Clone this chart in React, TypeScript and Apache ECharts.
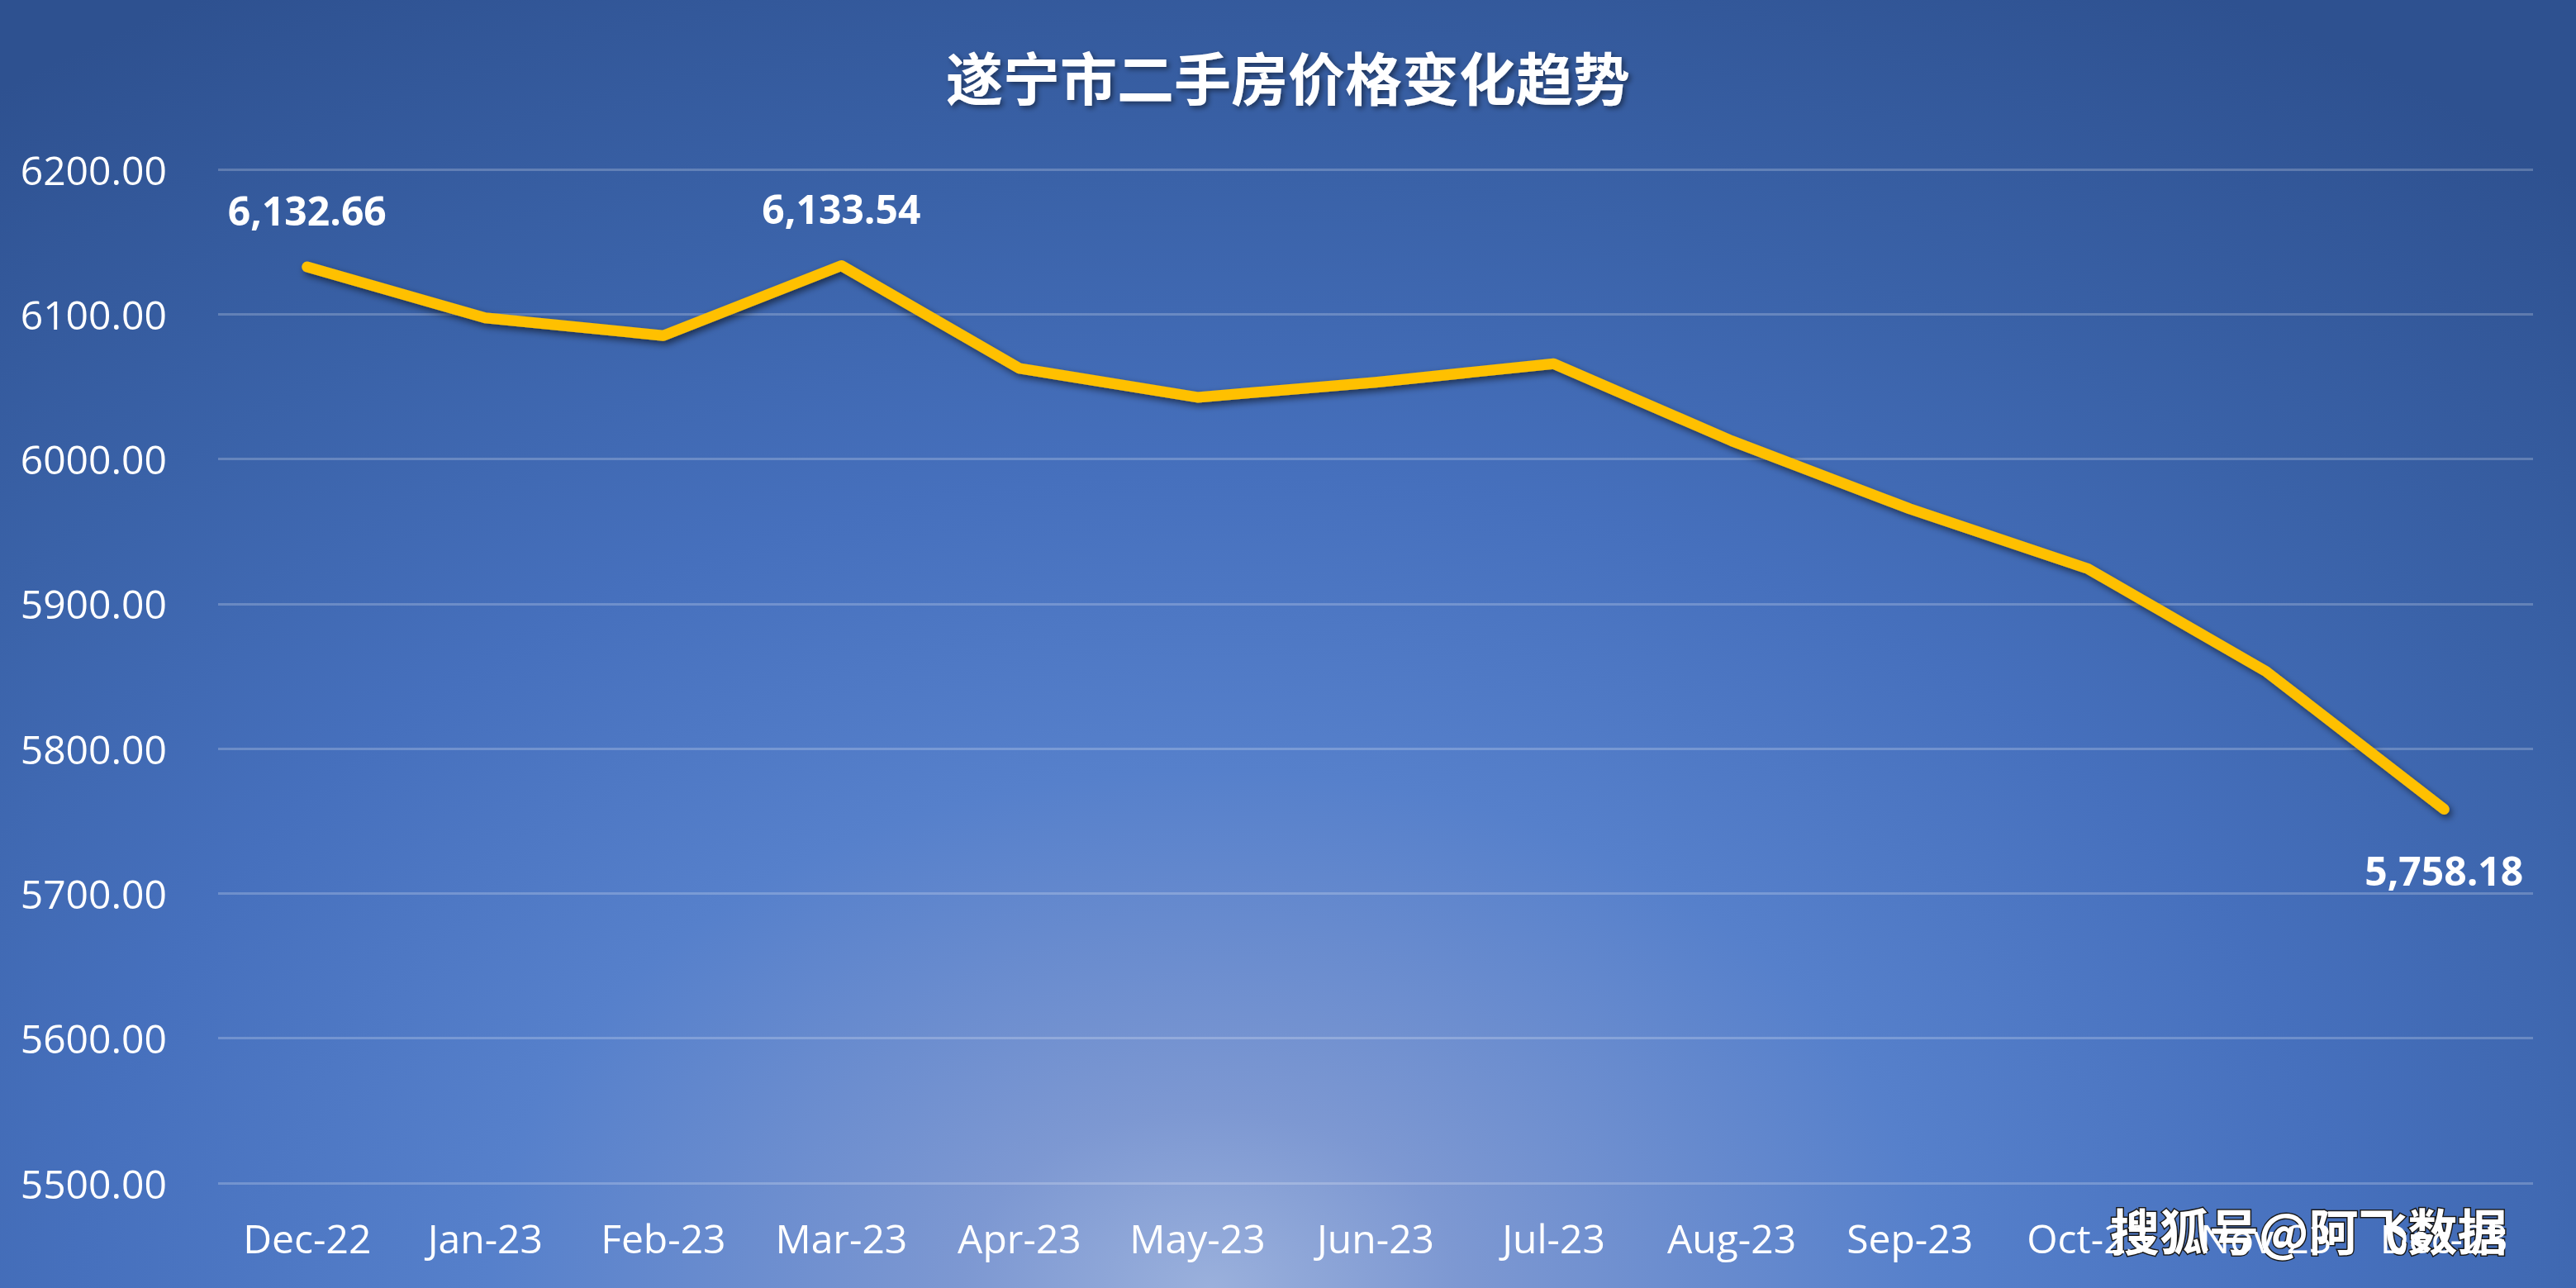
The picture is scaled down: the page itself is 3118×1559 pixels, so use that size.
import * as echarts from "echarts";
import { useEffect, useRef } from "react";

const months = [
  "Dec-22", "Jan-23", "Feb-23", "Mar-23", "Apr-23", "May-23", "Jun-23",
  "Jul-23", "Aug-23", "Sep-23", "Oct-23", "Nov-23", "Dec-23"
];

const prices = [
  6132.66, 6097.5, 6085.2, 6133.54, 6062.6, 6042.6, 6053.0,
  6065.8, 6012.5, 5965.6, 5924.2, 5853.4, 5758.18
];

// which points carry a value label, and where
const labelAbove = [0, 3];
const labelBelow = [12];

const yMin = 5500;
const yMax = 6200;
const yStep = 100;

const fmt = (v: number) =>
  v.toLocaleString("en-US", { minimumFractionDigits: 2, maximumFractionDigits: 2 });

export default function App() {
  const ref = useRef<HTMLDivElement>(null);

  useEffect(() => {
    if (!ref.current) return;
    const chart = echarts.init(ref.current, undefined, { renderer: "svg" });

    const labelStyle = {
      show: true,
      color: "#ffffff",
      fontSize: 48,
      fontWeight: "bold" as const,
      fontFamily: "'Open Sans', 'Noto Sans', sans-serif",
      formatter: (p: any) => fmt(p.value)
    };

    chart.setOption({
      animation: false,
      backgroundColor: "transparent",
      title: {
        text: "遂宁市二手房价格变化趋势",
        left: "center",
        top: 52,
        textStyle: {
          color: "#ffffff",
          fontSize: 69,
          fontWeight: "bold",
          fontFamily: "'Noto Sans CJK SC', sans-serif",
          textShadowColor: "rgba(0,0,0,0.45)",
          textShadowBlur: 6,
          textShadowOffsetX: 3,
          textShadowOffsetY: 3
        }
      },
      grid: { left: 264, right: 52, top: 205, bottom: 127 },
      xAxis: {
        type: "category",
        data: months,
        boundaryGap: true,
        axisLine: { show: false },
        axisTick: { show: false },
        axisLabel: {
          color: "#ffffff",
          fontSize: 48,
          margin: 42,
          fontFamily: "'Open Sans', 'Noto Sans', sans-serif"
        }
      },
      yAxis: {
        type: "value",
        min: yMin,
        max: yMax,
        interval: yStep,
        axisLine: { show: false },
        axisTick: { show: false },
        splitLine: { lineStyle: { color: "rgba(255,255,255,0.22)", width: 3 } },
        axisLabel: {
          color: "#ffffff",
          fontSize: 48,
          margin: 62,
          fontFamily: "'Open Sans', 'Noto Sans', sans-serif",
          formatter: (v: number) => v.toFixed(2)
        }
      },
      series: [
        {
          type: "line",
          showSymbol: true,
          symbol: "circle",
          symbolSize: 1,
          itemStyle: { color: "#FFC000" },
          data: prices.map((v, i) => {
            if (labelAbove.includes(i))
              return { value: v, label: { ...labelStyle, position: "top", distance: 44 } };
            if (labelBelow.includes(i))
              return { value: v, label: { ...labelStyle, position: "bottom", distance: 50 } };
            return v;
          }),
          lineStyle: {
            color: "#FFC000",
            width: 13,
            cap: "round",
            join: "round",
            shadowColor: "rgba(0,0,0,0.55)",
            shadowBlur: 8,
            shadowOffsetX: 3,
            shadowOffsetY: 4
          }
        }
      ],
      graphic: [
        {
          type: "text",
          right: 82,
          top: 1456,
          style: {
            text: "搜狐号@阿飞数据",
            fill: "#ffffff",
            stroke: "#1a1a1a",
            lineWidth: 3,
            fontSize: 60,
            fontWeight: "bold",
            fontFamily: "'Noto Sans CJK SC', sans-serif",
            shadowColor: "rgba(0,0,0,0.6)",
            shadowOffsetX: 3,
            shadowOffsetY: 3
          }
        }
      ]
    });

    return () => chart.dispose();
  }, []);

  return (
    <div
      ref={ref}
      style={{
        position: "fixed",
        left: 0,
        top: 0,
        width: "100vw",
        height: "100vh",
        background:
          "radial-gradient(ellipse 80% 115% at 47% 100%, #9ab0dc 0%, #7d98d2 12%, #5680cb 35%, #4670bd 55%, #3a62a8 75%, #2e5190 100%)"
      }}
    />
  );
}
